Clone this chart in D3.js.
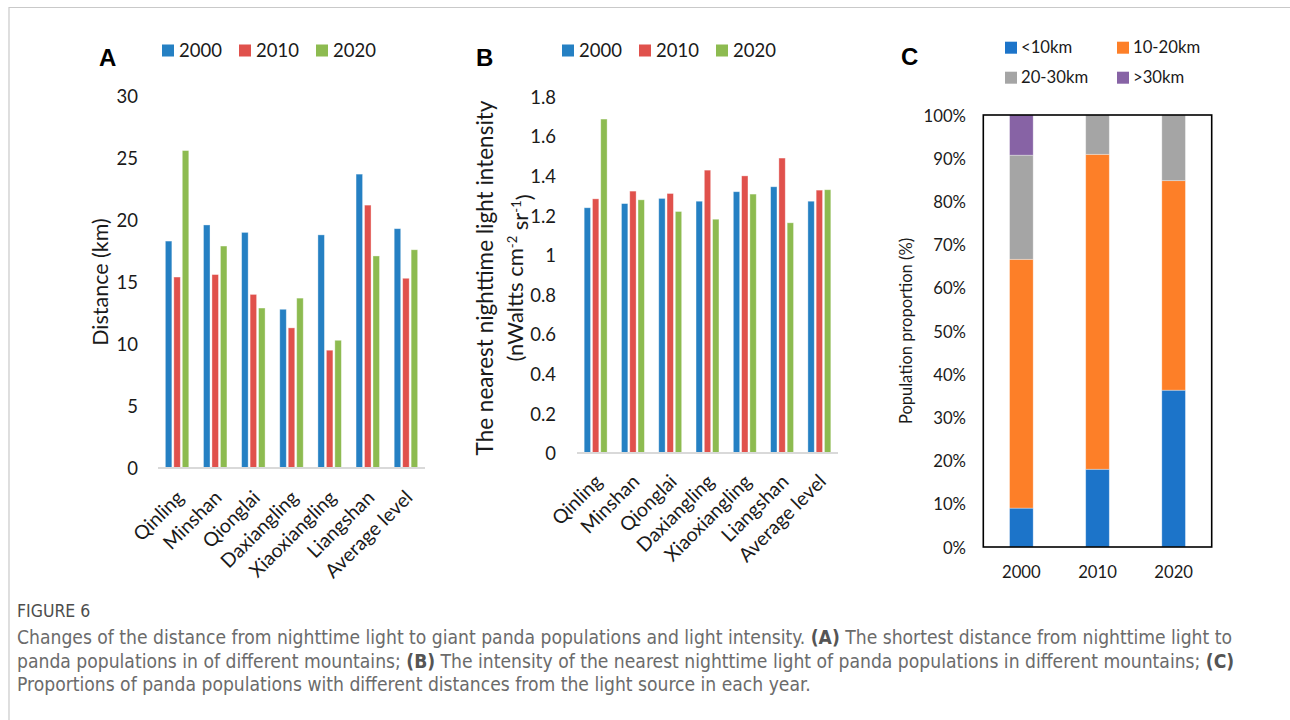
<!DOCTYPE html>
<html><head><meta charset="utf-8">
<script src="https://cdn.jsdelivr.net/npm/d3@7"></script>
<style>
html,body{margin:0;padding:0;background:#fff;}
svg{display:block;}
</style></head>
<body>
<svg id="chart" width="1290" height="720"></svg>
<script>
// ---------- DATA ----------
const mountains = ["Qinling","Minshan","Qionglai","Daxiangling","Xiaoxiangling","Liangshan","Average level"];
const years = ["2000","2010","2020"];
// Panel A: shortest distance (km)
const distance2000 = [18.3,19.6,19.0,12.8,18.8,23.7,19.3];
const distance2010 = [15.4,15.6,14.0,11.3,9.5,21.2,15.3];
const distance2020 = [25.6,17.9,12.9,13.7,10.3,17.1,17.6];
const distanceTicks = [0,5,10,15,20,25,30];
// Panel B: nearest nighttime light intensity
const intensity2000 = [1.239,1.260,1.286,1.272,1.320,1.345,1.272];
const intensity2010 = [1.284,1.323,1.311,1.429,1.400,1.490,1.328];
const intensity2020 = [1.687,1.279,1.220,1.181,1.308,1.163,1.330];
const intensityTicks = [0,0.2,0.4,0.6,0.8,1,1.2,1.4,1.6,1.8];
// Panel C: population proportion by distance class
const classes = ["<10km","10-20km","20-30km",">30km"];
const propLt10   = [0.090,0.180,0.363];
const prop10to20 = [0.576,0.729,0.485];
const prop20to30 = [0.241,0.091,0.152];
const propGt30   = [0.093,0.000,0.000];
const proportionTicks = [0,0.1,0.2,0.3,0.4,0.5,0.6,0.7,0.8,0.9,1];

// ---------- STYLE ----------
const seriesColors = ["#2580C3","#E0514C","#8DBB50"];
const classColors = ["#1C74C9","#FD7F28","#A5A5A5","#8763A5"];
const FONT = "Lato, 'Open Sans', sans-serif";

const svg = d3.select("#chart");

// frame lines
svg.append("line").attr("x1",9).attr("x2",1290).attr("y1",7.5).attr("y2",7.5).attr("stroke","#c9c9c9").attr("stroke-width",1.2);
svg.append("line").attr("x1",9).attr("x2",9).attr("y1",7).attr("y2",720).attr("stroke","#c9c9c9").attr("stroke-width",1.2);

function groupedPanel(cfg){
  const g = svg.append("g");
  const x0 = d3.scaleBand().domain(mountains).range(cfg.xr).paddingInner(0.385).paddingOuter(0.1925);
  const x1 = d3.scaleBand().domain(years).range([0,x0.bandwidth()]).paddingInner(0.23);
  const y = d3.scaleLinear().domain(cfg.domain).range(cfg.yr);
  const rows = mountains.map((m,i)=>({m, vals: cfg.series.map((s,j)=>({year:years[j], v:s[i], j}))}));
  // bars
  const grp = g.selectAll("g.grp").data(rows).join("g").attr("transform",d=>`translate(${x0(d.m)},0)`);
  grp.selectAll("rect").data(d=>d.vals).join("rect")
    .attr("x",d=>x1(d.year)).attr("width",x1.bandwidth())
    .attr("y",d=>y(d.v)).attr("height",d=>y(0)-y(d.v))
    .attr("fill",d=>seriesColors[d.j])
    .attr("stroke","#ffffff").attr("stroke-opacity",0.45).attr("stroke-width",0.8);
  // baseline
  g.append("line").attr("x1",cfg.xr[0]).attr("x2",cfg.xr[1]).attr("y1",y(0)).attr("y2",y(0))
    .attr("stroke","#d9d9d9").attr("stroke-width",2);
  // y tick labels via axis
  const ya = d3.axisLeft(y).tickValues(cfg.ticks).tickFormat(cfg.fmt).tickSize(0).tickPadding(0);
  const yg = g.append("g").attr("transform",`translate(${cfg.tickX},0)`).call(ya);
  yg.select(".domain").remove();
  yg.selectAll("text").attr("font-family",FONT).attr("font-size",18.5).attr("fill","#1a1a1a").attr("dy","0.36em");
  // x labels via axis (rotated)
  const xa = d3.axisBottom(x0).tickSize(0).tickPadding(0);
  const xg = g.append("g").attr("transform",`translate(0,${y(0)})`).call(xa);
  xg.select(".domain").remove();
  xg.selectAll("text").attr("font-family",FONT).attr("font-size",19.5).attr("fill","#1a1a1a")
    .attr("text-anchor","end").attr("y",0).attr("dy","0.35em")
    .attr("transform",`translate(${cfg.lblDx},${cfg.lblDy}) rotate(-45)`);
  // legend
  years.forEach((yr,j)=>{
    g.append("rect").attr("x",cfg.legX[j]).attr("y",44.5).attr("width",12).attr("height",12).attr("fill",seriesColors[j]);
    g.append("text").attr("x",cfg.legX[j]+17).attr("y",57).text(yr)
      .attr("font-family",FONT).attr("font-size",18.5).attr("fill","#1a1a1a");
  });
  // panel letter
  g.append("text").attr("x",cfg.letterX).attr("y",66).text(cfg.letter)
    .attr("font-family","'Liberation Sans', Arial, sans-serif").attr("font-weight","bold").attr("font-size",24).attr("fill","#000");
  return g;
}

// Panel A
const gA = groupedPanel({
  xr:[158,425], yr:[468,96], domain:[0,30], ticks:distanceTicks, fmt:d3.format("d"),
  series:[distance2000,distance2010,distance2020], tickX:138, lblDx:3, lblDy:26,
  legX:[162,239,316], letter:"A", letterX:99
});
gA.append("text").attr("transform","translate(108,282) rotate(-90)").attr("text-anchor","middle")
  .attr("font-family",FONT).attr("font-size",21.5).attr("fill","#1a1a1a").text("Distance (km)");

// Panel B
const gB = groupedPanel({
  xr:[577,838], yr:[453,96.7], domain:[0,1.8], ticks:intensityTicks, fmt:d=>String(Math.round(d*10)/10),
  series:[intensity2000,intensity2010,intensity2020], tickX:556, lblDx:3, lblDy:25,
  legX:[562,639,716], letter:"B", letterX:476
});
gB.append("text").attr("transform","translate(493,278) rotate(-90)").attr("text-anchor","middle")
  .attr("font-family",FONT).attr("font-size",22.5).attr("fill","#1a1a1a").text("The nearest nighttime light intensity");
const bl2 = gB.append("text").attr("transform","translate(523,278) rotate(-90)").attr("text-anchor","middle")
  .attr("font-family",FONT).attr("font-size",22).attr("fill","#1a1a1a");
bl2.append("tspan").text("(nWaltts cm");
bl2.append("tspan").text("-2").attr("dy","-0.5em").attr("font-size",13);
bl2.append("tspan").text(" sr").attr("dy","0.5em");
bl2.append("tspan").text("-1").attr("dy","-0.5em").attr("font-size",13);
bl2.append("tspan").text(")").attr("dy","0.5em");

// Panel C
const gC = svg.append("g");
const xC = d3.scaleBand().domain(years).range([983.3,1211.7]).paddingInner(0.69).paddingOuter(0.345);
const yC = d3.scaleLinear().domain([0,1]).range([547,115]);
const classSeries = [propLt10,prop10to20,prop20to30,propGt30];
const tableC = years.map((yr,i)=>{const o={year:yr}; classes.forEach((c,k)=>o[c]=classSeries[k][i]); return o;});
const stacked = d3.stack().keys(classes)(tableC);
gC.selectAll("g.layer").data(stacked).join("g").attr("fill",(d,k)=>classColors[k])
  .selectAll("rect").data(d=>d.filter(p=>p[1]-p[0]>0)).join("rect")
  .attr("x",d=>xC(d.data.year)).attr("width",xC.bandwidth())
  .attr("y",d=>yC(d[1])).attr("height",d=>yC(d[0])-yC(d[1]))
  .attr("stroke","#ffffff").attr("stroke-opacity",0.4).attr("stroke-width",0.8);
gC.append("rect").attr("x",983.3).attr("y",115).attr("width",1211.7-983.3).attr("height",547-115)
  .attr("fill","none").attr("stroke","#000").attr("stroke-width",1.6);
const yaC = d3.axisLeft(yC).tickValues(proportionTicks).tickFormat(d3.format(".0%")).tickSize(0).tickPadding(0);
const ygC = gC.append("g").attr("transform","translate(966,0)").call(yaC);
ygC.select(".domain").remove();
ygC.selectAll("text").attr("font-family",FONT).attr("font-size",16.7).attr("fill","#1a1a1a").attr("dy","0.36em");
const xaC = d3.axisBottom(xC).tickSize(0).tickPadding(0);
const xgC = gC.append("g").attr("transform","translate(0,547)").call(xaC);
xgC.select(".domain").remove();
xgC.selectAll("text").attr("font-family",FONT).attr("font-size",16.7).attr("fill","#1a1a1a").attr("dy",0).attr("y",31);
gC.append("text").attr("transform","translate(912,331) rotate(-90)").attr("text-anchor","middle")
  .attr("font-family",FONT).attr("font-size",16.5).attr("fill","#1a1a1a").text("Population proportion (%)");
const legPos = [[1005,41.7],[1117,41.7],[1005,71.7],[1117,71.7]];
classes.forEach((c,k)=>{
  gC.append("rect").attr("x",legPos[k][0]).attr("y",legPos[k][1]).attr("width",12).attr("height",12).attr("fill",classColors[k]);
  gC.append("text").attr("x",legPos[k][0]+16).attr("y",legPos[k][1]+11).text(c)
    .attr("font-family",FONT).attr("font-size",16.7).attr("fill","#1a1a1a");
});
gC.append("text").attr("x",901).attr("y",65).text("C")
  .attr("font-family","'Liberation Sans', Arial, sans-serif").attr("font-weight","bold").attr("font-size",24).attr("fill","#000");

// ---------- CAPTION ----------
const CAPFONT = "'Liberation Sans Narrow', 'DejaVu Sans Condensed', 'Roboto', sans-serif";
const cap = svg.append("g");
cap.append("text").attr("x",17).attr("y",617).text("FIGURE 6")
  .attr("font-family",CAPFONT).attr("font-size",17.5).attr("fill","#4d4d4d");
const capLines = [
  [["Changes of the distance from nighttime light to giant panda populations and light intensity. ",0],["(A)",1],[" The shortest distance from nighttime light to",0]],
  [["panda populations in of different mountains; ",0],["(B)",1],[" The intensity of the nearest nighttime light of panda populations in different mountains; ",0],["(C)",1]],
  [["Proportions of panda populations with different distances from the light source in each year.",0]]
];
const capTexts = capLines.map((parts,i)=>{
  const t = cap.append("text").attr("x",17).attr("y",644+i*23.5)
    .attr("font-family",CAPFONT).attr("font-size",18).attr("fill","#6b6b6b");
  parts.forEach(p=>t.append("tspan").text(p[0]).attr("font-weight",p[1]?"bold":"normal").attr("fill",p[1]?"#555":"#6b6b6b"));
  return t;
});
// fit caption font size so first line spans the measured width
const w0 = capTexts[0].node().getComputedTextLength();
const fs = 18*1216/w0;
capTexts.forEach(t=>t.attr("font-size",fs));
</script>
</body></html>
